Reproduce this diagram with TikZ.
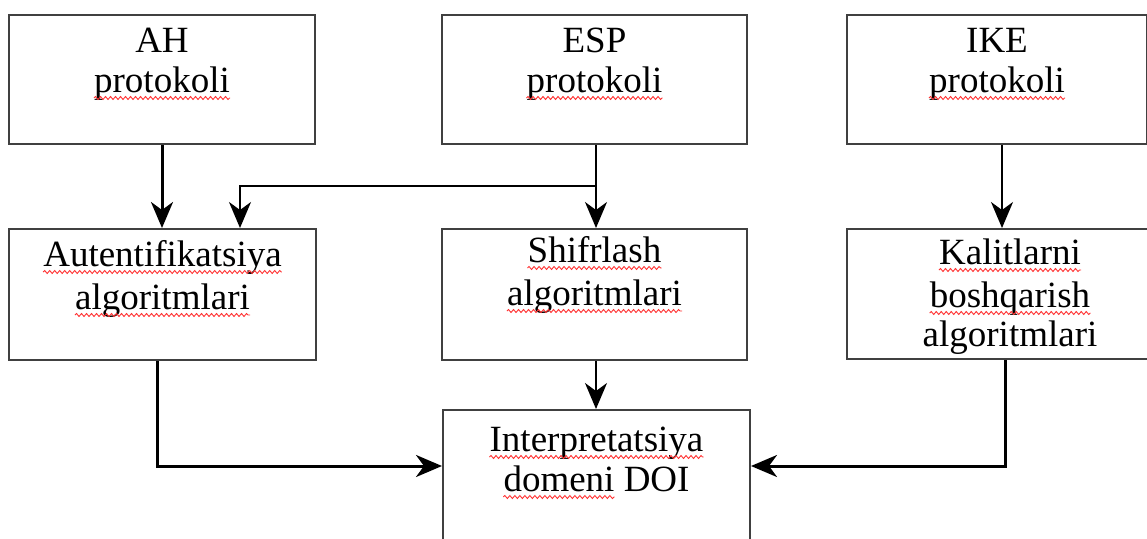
\documentclass[tikz,border=0pt]{standalone}
\usepackage{fontspec}
\setmainfont{Liberation Serif}
\usetikzlibrary{arrows.meta,decorations.pathmorphing,calc}
\begin{document}
\begin{tikzpicture}[x=1pt,y=-1pt,
 box/.style={draw=black!75, line width=2pt, inner sep=0pt, rectangle},
 txt/.style={anchor=base, inner sep=0pt, font=\fontsize{37}{43}\selectfont},
 squig/.style={draw=red!80, line width=0.9pt, decorate, decoration={snake, amplitude=1.5pt, segment length=5pt}},
 tip/.style={-{Stealth[length=26pt,width=22pt,inset=8pt]}},
 thinarr/.style={tip, line width=1.7pt},
 thickarr/.style={tip, line width=3pt},
]
\useasboundingbox (0,0) rectangle (1147,538);
\fill[white] (0,0) rectangle (1147,538);

% boxes
\node[box, minimum width=306pt, minimum height=129pt] (ah)  at (162,79.5) {};
\node[box, minimum width=305pt, minimum height=129pt] (esp) at (594.5,79.5) {};
\node[box, minimum width=300pt, minimum height=129pt] (ike) at (997,79.5) {};
\node[box, minimum width=307pt, minimum height=131pt] (au)  at (162.5,294.5) {};
\node[box, minimum width=305pt, minimum height=131pt] (sh)  at (594.5,294.5) {};
\node[box, minimum width=326pt, minimum height=130pt] (kal) at (1010,294) {};
\node[box, minimum width=307pt, minimum height=160pt] (doi) at (596.5,490) {};

% texts
\node[txt] (ah1)  at ([yshift=-38pt]ah.north) {AH};
\node[txt] (ah2)  at ([yshift=-78pt]ah.north) {protokoli};
\node[txt] (esp1) at ([yshift=-38pt]esp.north) {ESP};
\node[txt] (esp2) at ([yshift=-78pt]esp.north) {protokoli};
\node[txt] (ike1) at ([yshift=-38pt]ike.north) {IKE};
\node[txt] (ike2) at ([yshift=-78pt]ike.north) {protokoli};
\node[txt] (au1)  at ([yshift=-38pt]au.north) {Autentifikatsiya};
\node[txt] (au2)  at ([yshift=-81pt]au.north) {algoritmlari};
\node[txt] (sh1)  at ([yshift=-34pt]sh.north) {Shifrlash};
\node[txt] (sh2)  at ([yshift=-77pt]sh.north) {algoritmlari};
\node[txt] (kal1) at ([yshift=-36pt]kal.north) {Kalitlarni};
\node[txt] (kal2) at ([yshift=-79pt]kal.north) {boshqarish};
\node[txt] (kal3) at ([yshift=-118pt]kal.north) {algoritmlari};
\node[txt] (doi1) at ([yshift=-42pt]doi.north) {Interpretatsiya};
\node[txt] (doi2) at ([yshift=-82pt]doi.north) {domeni DOI};

% spell-check underlines
\foreach \n in {ah2,esp2,ike2,au1,au2,sh1,sh2,kal1,kal2,doi1}
  \draw[squig] ([yshift=-6pt]\n.base west) -- ([yshift=-6pt]\n.base east);
\draw[squig] ($(doi2.base west)+(0,6)$) -- ($(doi2.base west)!0.597!(doi2.base east)+(0,6)$);

% connectors
\coordinate (j) at (596,186);
\draw[thickarr] (ah.south) -- (ah.south |- au.north);
\draw[thinarr] ([xshift=1.5pt]esp.south) -- ([xshift=1.5pt]esp.south |- sh.north);
\draw[thinarr] (j) -| ([xshift=77.5pt]au.north);
\draw[thinarr] ([xshift=5pt]ike.south) -- ([xshift=5pt]ike.south |- kal.north);
\draw[thinarr] ([xshift=1.5pt]sh.south) -- ([xshift=1.5pt]sh.south |- doi.north);
\draw[thickarr] ([xshift=-5.5pt]au.south) |- ([yshift=24pt]doi.west);
\draw[thickarr] ([xshift=-5pt]kal.south) |- ([yshift=24pt]doi.east);
\end{tikzpicture}
\end{document}
